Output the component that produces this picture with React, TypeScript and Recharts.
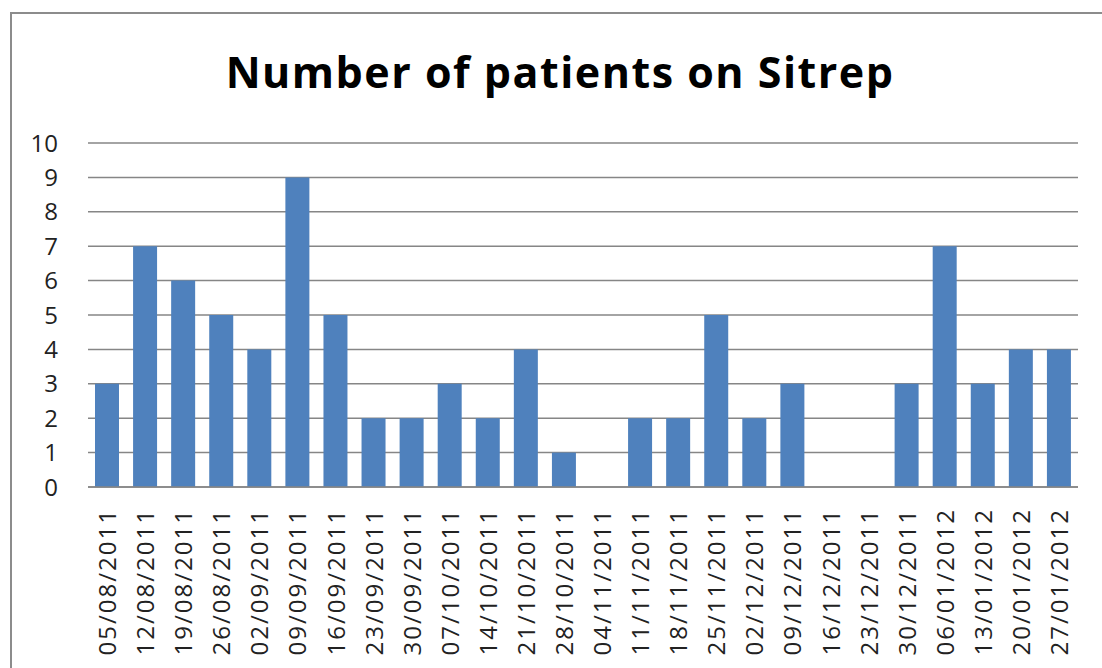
import React from 'react';
import { BarChart, Bar, XAxis, YAxis, CartesianGrid } from 'recharts';

const weeks = [
  '05/08/2011', '12/08/2011', '19/08/2011', '26/08/2011', '02/09/2011', '09/09/2011',
  '16/09/2011', '23/09/2011', '30/09/2011', '07/10/2011', '14/10/2011', '21/10/2011',
  '28/10/2011', '04/11/2011', '11/11/2011', '18/11/2011', '25/11/2011', '02/12/2011',
  '09/12/2011', '16/12/2011', '23/12/2011', '30/12/2011', '06/01/2012', '13/01/2012',
  '20/01/2012', '27/01/2012',
];
const patients = [3, 7, 6, 5, 4, 9, 5, 2, 2, 3, 2, 4, 1, 0, 2, 2, 5, 2, 3, 0, 0, 3, 7, 3, 4, 4];
const yTicks = [0, 1, 2, 3, 4, 5, 6, 7, 8, 9, 10];

const data = weeks.map((week, i) => ({ week, value: patients[i] }));

const FONT = '"Open Sans", sans-serif';

// rotated date labels hanging below the axis
const DateTick = (props: any) => {
  const { x, y, payload } = props;
  return (
    <text
      x={0}
      y={0}
      transform={`translate(${x + 9},${y + 13}) rotate(-90)`}
      textAnchor="end"
      fontFamily={FONT}
      fontSize={24}
      letterSpacing={2}
      fill="#222"
    >
      {payload.value}
    </text>
  );
};

const App: React.FC = () => {
  return (
    <div style={{ position: 'absolute', left: 0, top: 0, width: 1102, height: 668, background: '#fff', overflow: 'hidden' }}>
      <div
        style={{
          position: 'absolute', left: 10, top: 12, width: 1120, height: 700,
          borderLeft: '2px solid #8c8c8c', borderTop: '2px solid #8c8c8c',
        }}
      />
      <div
        style={{
          position: 'absolute', left: 0, top: 42, width: 1120, textAlign: 'center',
          fontFamily: FONT, fontWeight: 700, fontSize: 43, letterSpacing: 1.5, color: '#000',
        }}
      >
        Number of patients on Sitrep
      </div>
      <div style={{ position: 'absolute', left: 0, top: 0 }}>
        <BarChart width={1102} height={668} data={data} margin={{ top: 143, right: 24, bottom: 11, left: 10 }}>
          <CartesianGrid vertical={false} stroke="#868686" strokeWidth={1.5} />
          <XAxis
            dataKey="week"
            interval={0}
            height={170}
            tickLine={false}
            axisLine={{ stroke: '#868686', strokeWidth: 1.5 }}
            tick={<DateTick />}
          />
          <YAxis
            width={78}
            domain={[0, 10]}
            ticks={yTicks}
            interval={0}
            axisLine={false}
            tickLine={false}
            tick={{ fontFamily: FONT, fontSize: 24, fill: '#222' }}
            tickMargin={24}
          />
          <Bar dataKey="value" fill="#4f81bd" barSize={24} isAnimationActive={false} />
        </BarChart>
      </div>
    </div>
  );
};

export default App;
